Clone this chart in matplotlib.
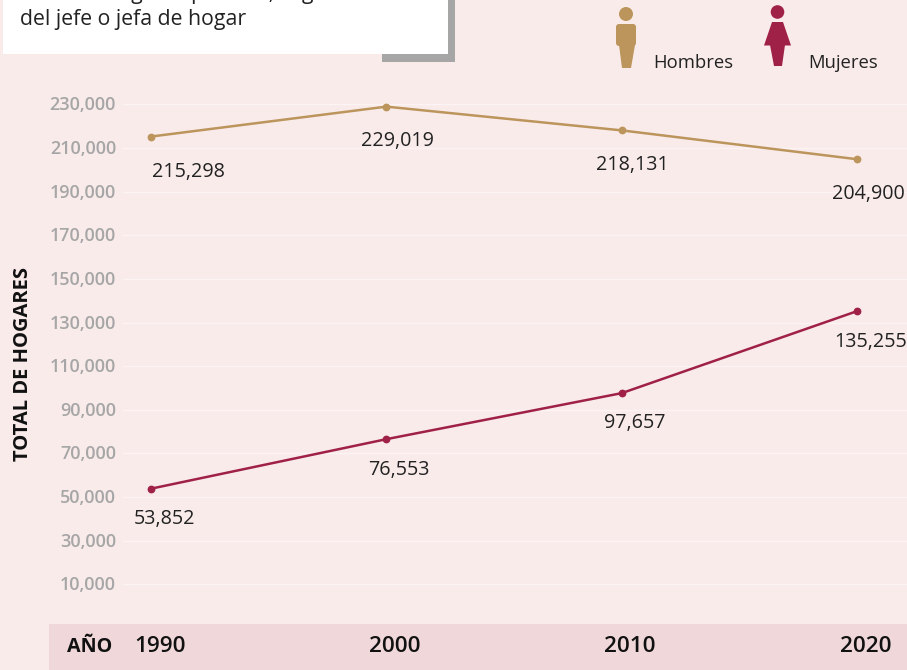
import matplotlib
matplotlib.use('Agg')
import matplotlib.pyplot as plt
from matplotlib.patches import Rectangle, Circle, Polygon, FancyBboxPatch
from matplotlib.transforms import ScaledTranslation

plt.rcParams['font.family'] = ['Open Sans', 'DejaVu Sans']

anios = [1990, 2000, 2010, 2020]
hombres = [215298, 229019, 218131, 204900]
mujeres = [53852, 76553, 97657, 135255]
y_ticks = [10000, 30000, 50000, 70000, 90000, 110000, 130000, 150000, 170000, 190000, 210000, 230000]

# desplazamiento de cada etiqueta respecto al punto, en pixeles
off_hombres = [(37, -35), (11, -34), (11, -35), (11, -35)]
off_mujeres = [(13, -30), (13, -31), (13, -30), (14, -31)]

W, H = 907, 670
FONDO = '#faebeb'
BANDA = '#f0d8da'
ORO = '#bc955c'
VINO = '#a02148'
GRIS = '#a6a6a6'
px = 0.72  # pixeles a puntos con dpi=100

fig = plt.figure(figsize=(W / 100, H / 100), dpi=100, facecolor=FONDO)

# eje principal: de x=123 a 907 px, y de 625 a 60 px
ax = fig.add_axes([123 / W, 1 - 625 / H, (907 - 123) / W, (625 - 60) / H], facecolor='none')
ax.set_xlim(1988.81, 2022.12)
ax.set_ylim(-8650, 250400)
for s in ax.spines.values():
    s.set_visible(False)

ax.set_yticks(y_ticks)
ax.set_yticklabels([f'{v:,}' for v in y_ticks], color=GRIS, fontsize=13, fontweight='semibold')
ax.tick_params(axis='y', length=0, pad=5)
# subir un pixel las etiquetas del eje y
subir = ScaledTranslation(0, 1 / 100, fig.dpi_scale_trans)
for lab in ax.get_yticklabels():
    lab.set_transform(lab.get_transform() + subir)
ax.grid(axis='y', color='#fcf3f3', lw=1)
ax.set_axisbelow(True)
ax.set_xticks([])

ax.plot(anios, hombres, color=ORO, lw=1.8, marker='o', ms=4.6)
ax.plot(anios, mujeres, color=VINO, lw=1.8, marker='o', ms=4.6)

for a, v, o in zip(anios, hombres, off_hombres):
    ax.annotate(f'{v:,}', (a, v), xytext=(o[0] * px, o[1] * px), textcoords='offset points',
                ha='center', va='center', fontsize=14.2, color='#222222')
for a, v, o in zip(anios, mujeres, off_mujeres):
    ax.annotate(f'{v:,}', (a, v), xytext=(o[0] * px, o[1] * px), textcoords='offset points',
                ha='center', va='center', fontsize=14.2, color='#222222')

# capa de adornos en pixeles
deco = fig.add_axes([0, 0, 1, 1], facecolor='none')
deco.set_xlim(0, W)
deco.set_ylim(H, 0)
deco.axis('off')
deco.set_zorder(-1)

deco.add_patch(Rectangle((49, 624), W - 49, 46, color=BANDA, lw=0))
deco.add_patch(Rectangle((382, -5), 73, 67, color=GRIS, lw=0))
deco.add_patch(Rectangle((3, -5), 445, 59, color='white', lw=0))

deco.text(20, -7, 'Total de hogares por año, según sexo', fontsize=15.3, color='#222222', va='center')
deco.text(20, 19, 'del jefe o jefa de hogar', fontsize=15.3, color='#222222', va='center')

deco.text(23, 364, 'TOTAL DE HOGARES', rotation=90, fontsize=14.5, fontweight='bold',
          color='#111111', ha='center', va='center')
deco.text(89.5, 647, 'AÑO', fontsize=14.2, fontweight='bold', color='#111111', ha='center', va='center')
for a, x in zip(anios, [160, 395, 630, 866]):
    deco.text(x, 647, str(a), fontsize=16.2, fontweight='semibold', color='#111111', ha='center', va='center')

# iconos
deco.add_patch(Circle((626, 14), 7, color=ORO, lw=0))
deco.add_patch(FancyBboxPatch((618, 26), 16, 18, boxstyle='round,pad=2,rounding_size=3', color=ORO, lw=0))
deco.add_patch(Polygon([(619, 45), (635, 45), (631, 68), (622, 68)], color=ORO, lw=0))
deco.add_patch(Circle((777.5, 12), 6.8, color=VINO, lw=0))
deco.add_patch(Polygon([(772, 22), (783, 22), (791, 45.5), (764, 45.5)], color=VINO, lw=0))
deco.add_patch(Polygon([(770, 45), (785, 45), (782, 66), (774, 66)], color=VINO, lw=0))
deco.text(653, 63, 'Hombres', fontsize=13.3, color='#222222', va='center')
deco.text(808, 63, 'Mujeres', fontsize=13.3, color='#222222', va='center')

fig.savefig('out.png', dpi=100, facecolor=FONDO)
